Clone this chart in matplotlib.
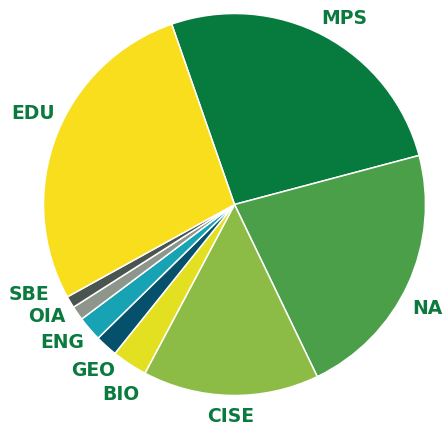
import matplotlib.pyplot as plt

# budget share by directorate (percent), clockwise from the top
labels = ["MPS", "NA", "CISE", "BIO", "GEO", "ENG", "OIA", "SBE", "EDU"]
shares = [26.2, 22.0, 14.9, 3.0, 1.9, 2.1, 1.2, 1.0, 27.7]
colors = ["#077A3E", "#4A9F48", "#8CBC45", "#E2E020", "#05506B",
          "#17A3B3", "#8E968B", "#4A5450", "#F9DE1E"]

# label anchor points in pixels (x, y from top)
label_pos = [(344, 18), (427, 308), (231, 417), (121, 395), (93, 371),
             (62, 342), (47, 317), (29, 295), (33, 113)]

W, H = 443, 428
fig = plt.figure(figsize=(W / 100, H / 100), dpi=100)
ax = fig.add_axes([0, 0, 1, 1])

ax.pie(shares, colors=colors, startangle=109.2, counterclock=False,
       center=(234.5, H - 204.5), radius=191,
       wedgeprops=dict(edgecolor="white", linewidth=1.1))

for lab, (x, y) in zip(labels, label_pos):
    ax.text(x, H - y, lab, ha="center", va="center", color="#0A7A3E",
            fontsize=13.5, fontweight="bold", family="DejaVu Sans")

ax.set_xlim(0, W)
ax.set_ylim(0, H)
ax.set_aspect("equal")
ax.axis("off")

fig.savefig("out.png", dpi=100)
